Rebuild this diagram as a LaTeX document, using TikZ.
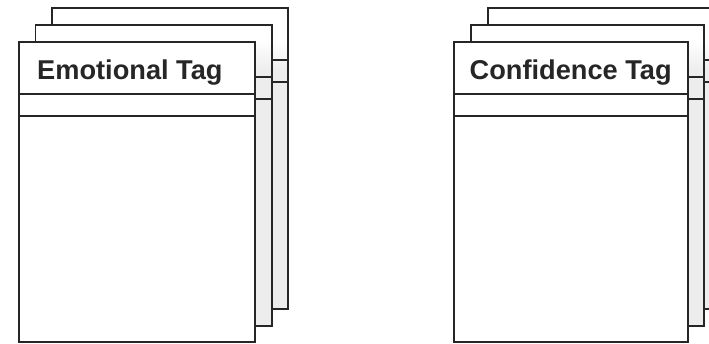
\documentclass[tikz,border=0pt]{standalone}
\usepackage{fontspec}
\setmainfont{Liberation Sans}
\begin{document}
\begin{tikzpicture}[x=1pt,y=-1pt,
  boxline/.style={draw=black!85, line width=1.5pt},
  backfill/.style={fill=black!7},
  tagtext/.style={font=\bfseries\fontsize{27.2}{30}\selectfont, text=black!85, anchor=base west, inner sep=0pt}]
\useasboundingbox (0,0) rectangle (709,343);
% one stacked card
\newcommand{\mycard}[5]{% #1 x, #2 y, #3 width, #4 height, #5 back (1) or front (0)
  \ifnum#5=1
    \fill[black!7] (#1,#2) rectangle ++(#3,#4);
    \fill[white] (#1,#2) rectangle (#1+#3,40);
    \shade[top color=white, bottom color=black!7] (#1,40) rectangle (#1+#3,70);
  \else
    \fill[white] (#1,#2) rectangle ++(#3,#4);
  \fi
  \draw[boxline] (#1,#2) rectangle ++(#3,#4);
  \draw[boxline] (#1,#2+52) -- ++(#3,0);
  \draw[boxline] (#1,#2+74) -- ++(#3,0);
}
\begin{scope}
\clip (0,0) rectangle (709,343);
% left stack
\mycard{52}{8}{236}{301}{1}
\mycard{35.5}{25}{236.5}{301}{1}
\mycard{19}{42}{236}{300}{0}
\node[tagtext] (emo) at (37,79.5) {Emotional Tag};
% right stack
\mycard{488}{8}{234}{301}{1}
\mycard{471}{25}{233}{301}{1}
\mycard{454}{42}{234}{300}{0}
\node[tagtext] (conf) at (469.5,79.5) {Confidence Tag};
\end{scope}
\end{tikzpicture}
\end{document}
